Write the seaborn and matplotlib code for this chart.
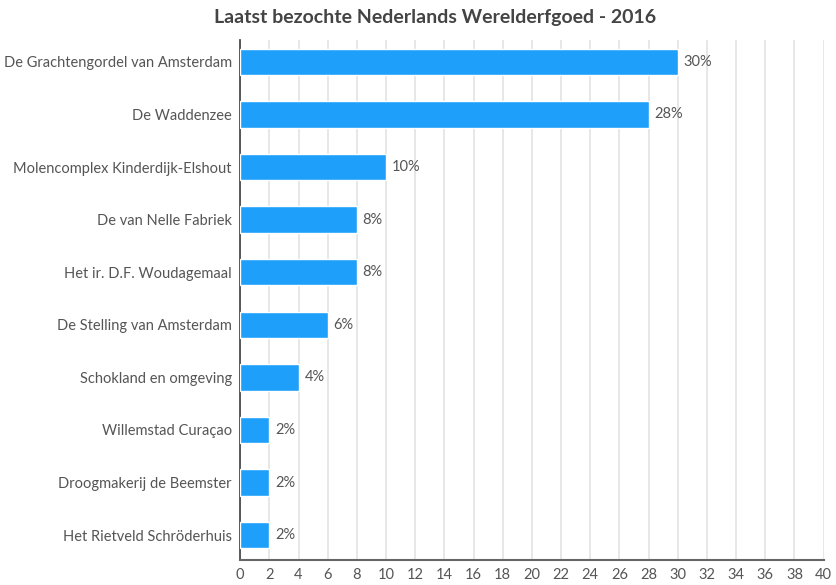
import seaborn as sns
import matplotlib.pyplot as plt
import pandas as pd

sns.set_theme(style="white")
plt.rcParams['font.family'] = ['Lato', 'DejaVu Sans']

# data
sites = ['De Grachtengordel van Amsterdam', 'De Waddenzee',
         'Molencomplex Kinderdijk-Elshout', 'De van Nelle Fabriek',
         'Het ir. D.F. Woudagemaal', 'De Stelling van Amsterdam',
         'Schokland en omgeving', 'Willemstad Curaçao',
         'Droogmakerij de Beemster', 'Het Rietveld Schröderhuis']
percent = [30, 28, 10, 8, 8, 6, 4, 2, 2, 2]
ticks = list(range(0, 41, 2))

df = pd.DataFrame({'site': sites, 'percent': percent})

fig = plt.figure(figsize=(8.37, 5.85), dpi=100)
ax = fig.add_axes([0.287, 0.043, 0.697, 0.889])

sns.barplot(data=df, x='percent', y='site', color='#1ea0fa', width=0.5,
            saturation=1, ax=ax, zorder=3)

for i, v in enumerate(percent):
    ax.text(v + 0.4, i, f'{v}%', va='center', ha='left', fontsize=10.5, color='#555555')

ax.set_xlim(0, 40)
ax.set_ylim(9.47, -0.42)
ax.set_xticks(ticks)
ax.xaxis.grid(True, color='#e3e3e3', linewidth=1.2, zorder=0)
ax.set_xlabel('')
ax.set_ylabel('')
ax.tick_params(axis='x', labelsize=10.5, colors='#555555', length=0, pad=6)
ax.tick_params(axis='y', labelsize=10.5, colors='#555555', length=0, pad=6)
for s in ['top', 'right']:
    ax.spines[s].set_visible(False)
ax.spines['left'].set_color('#444444')
ax.spines['bottom'].set_color('#666666')
ax.spines['bottom'].set_linewidth(1.5)

fig.suptitle('Laatst bezochte Nederlands Werelderfgoed - 2016', x=0.52, y=0.985,
             fontsize=14, fontweight='bold', color='#444444')

fig.savefig('out.png', dpi=100)
